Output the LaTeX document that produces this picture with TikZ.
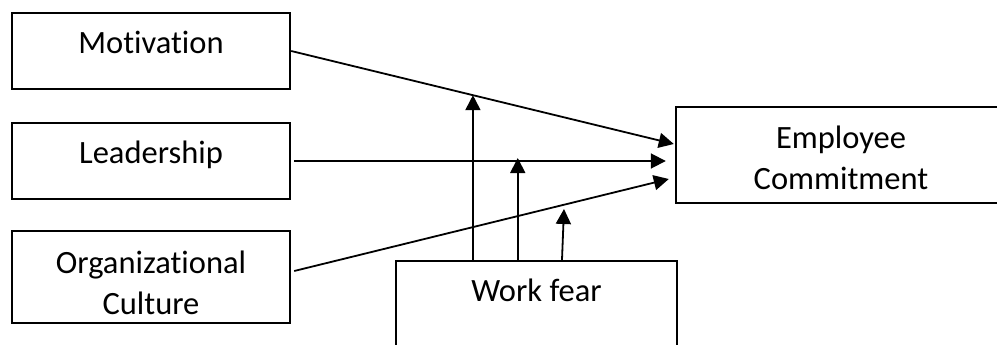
\documentclass[tikz,border=0pt]{standalone}
\usepackage{fontspec}
\setmainfont[Ligatures={NoCommon}]{Carlito}
\usetikzlibrary{arrows.meta,calc}
\begin{document}
\begin{tikzpicture}[x=1pt,y=-1pt,
  box/.style={draw=black,line width=2.4pt,inner sep=0pt},
  lbl/.style={inner sep=0pt,anchor=base,align=center,font=\fontsize{32.5}{41}\selectfont},
  arr/.style={line width=1.8pt,-{Triangle[length=15pt,width=15pt]}}]
\useasboundingbox (0,0) rectangle (997,345);
\node[box,minimum width=278pt,minimum height=76pt] (mot) at (151,51) {};
\node[box,minimum width=278pt,minimum height=76pt] (lead) at (151,161) {};
\node[box,minimum width=278pt,minimum height=92pt] (org) at (151,277) {};
\node[box,minimum width=330pt,minimum height=96pt] (emp) at (841,155) {};
\node[box,minimum width=281pt,minimum height=139pt] (fear) at (536.5,330.5) {};
\node[lbl] (motT) at (151,54) {Motivation};
\node[lbl] (leadT) at (151,164) {Leadership};
\node[lbl] (orgT) at (151,314) {Organizational\\Culture};
\node[lbl] (empT) at (841,189) {Employee\\Commitment};
\node[lbl] (fearT) at (536.5,301) {Work fear};
% main arrows
\draw[arr] (mot.east) -- coordinate[pos=0.475] (m1) ($(emp.west)+(-1,-11)$);
\draw[arr] ($(lead.east)+(3,0)$) -- coordinate[pos=0.6016] (l1) ($(emp.west)+(-9,6)$);
\draw[arr] ($(org.east)+(3,-6)$) -- ($(emp.west)+(-6,24)$);
% moderating arrows
\draw[arr] (fear.north -| m1) -- (m1);
\draw[arr] (fear.north -| l1) -- ($(l1)+(0,-3)$);
\coordinate (o1) at (564,209);
\draw[arr] ($(fear.north)+(25.5,0)$) -- (o1);
\end{tikzpicture}
\end{document}
